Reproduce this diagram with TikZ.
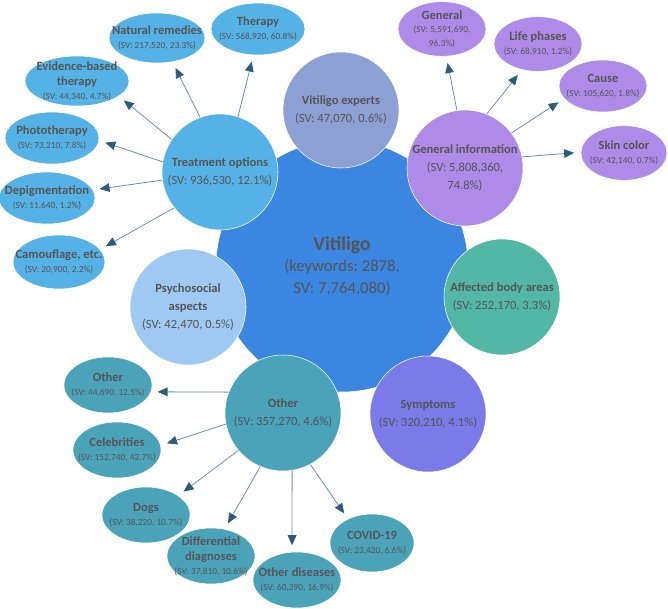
\documentclass[tikz,border=0pt]{standalone}
\usepackage{fontspec}
\setmainfont{Carlito}
\usetikzlibrary{shapes.geometric,arrows.meta}
\frenchspacing

\definecolor{txtgray}{HTML}{555555}
\definecolor{mainblue}{HTML}{3A86E0}
\definecolor{expertcol}{HTML}{8CA0D4}
\definecolor{treatcol}{HTML}{55B2E6}
\definecolor{infocol}{HTML}{AE8BE8}
\definecolor{bodycol}{HTML}{52B7A5}
\definecolor{symptcol}{HTML}{7A7BE8}
\definecolor{psychcol}{HTML}{9DC9F2}
\definecolor{othercol}{HTML}{4BA3BA}
\definecolor{linkcol}{HTML}{6B8FAD}
\definecolor{tipcol}{HTML}{2B5C7E}

\newcommand{\svsmall}[1]{{\fontsize{7}{9}\selectfont #1}}

\tikzset{
  bubble/.style={circle, draw=white, line width=0.4pt, minimum size=87pt, inner sep=-6pt,
    align=center, text=txtgray, font=\fontsize{9.4}{13.5}\selectfont},
  leaf/.style={ellipse, draw=white, line width=0.4pt, minimum width=66pt, minimum height=41pt,
    inner xsep=-15pt, inner ysep=-10pt, align=center, text=txtgray, font=\fontsize{9.4}{10.2}\selectfont},
  tleaf/.style={leaf, fill=treatcol, minimum width=70.5pt, minimum height=39pt},
  gleaf/.style={leaf, fill=infocol},
  oleaf/.style={leaf, fill=othercol, minimum height=42pt},
  link/.style={draw=linkcol, line width=0.6pt, -{Triangle[length=7.5pt,width=6.5pt,color=tipcol]}, shorten >=5pt}
}

\begin{document}
\begin{tikzpicture}[x=0.75pt,y=-0.75pt]
\useasboundingbox (0,0) rectangle (668,609);

\node[bubble, fill=mainblue, minimum size=189pt, font=\fontsize{12.5}{16}\selectfont] (vitiligo) at (342,266)
  {{\fontsize{14.7}{16}\selectfont\bfseries Vitiligo}\\(keywords: 2878,\\SV: 7,764,080)};
\node[bubble, fill=expertcol] (experts) at (341,110) {\textbf{Vitiligo experts}\\(SV: 47,070, 0.6\%)};
\node[bubble, fill=treatcol] (treatment) at (220,172) {\textbf{Treatment options}\\(SV: 936,530, 12.1\%)};
\node[bubble, fill=infocol] (geninfo) at (465,168) {\textbf{General information}\\(SV: 5,808,360,\\74.8\%)};
\node[bubble, fill=bodycol] (bodyareas) at (502,297) {\textbf{Affected body areas}\\(SV: 252,170, 3.3\%)};
\node[bubble, fill=symptcol] (symptoms) at (428,414) {\textbf{Symptoms}\\(SV: 320,210, 4.1\%)};
\node[bubble, fill=psychcol] (psycho) at (188,307) {\textbf{Psychosocial}\\\textbf{aspects}\\(SV: 42,470, 0.5\%)};
\node[bubble, fill=othercol] (other) at (283,413) {\textbf{Other}\\(SV: 357,270, 4.6\%)};

\node[tleaf] (therapy) at (258,29) {\textbf{Therapy}\\\svsmall{(SV: 568,920, 60.8\%)}};
\node[tleaf, minimum width=72pt, minimum height=37.5pt] (remedies) at (157,38) {\textbf{Natural remedies}\\\svsmall{(SV: 217,520, 23.3\%)}};
\node[tleaf, minimum width=78pt, minimum height=37.5pt] (evidence) at (77,81) {\textbf{Evidence-based}\\[1pt]\textbf{therapy}\\\svsmall{(SV: 44,340, 4.7\%)}};
\node[tleaf] (photo) at (52,138) {\textbf{Phototherapy}\\\svsmall{(SV: 73,210, 7.8\%)}};
\node[tleaf, minimum width=72pt] (depig) at (47,198) {\textbf{Depigmentation}\\\svsmall{(SV: 11,640, 1.2\%)}};
\node[tleaf, minimum width=69pt, minimum height=40.5pt] (camo) at (59,262) {\textbf{Camouflage, etc.}\\\svsmall{(SV: 20,900, 2.2\%)}};

\node[gleaf] (general) at (442,29) {\textbf{General}\\\svsmall{(SV: 5,591,690,}\\\svsmall{96.3\%)}};
\node[gleaf] (phases) at (538,44) {\textbf{Life phases}\\\svsmall{(SV: 68,910, 1.2\%)}};
\node[gleaf, minimum height=39pt] (cause) at (603,86) {\textbf{Cause}\\\svsmall{(SV: 105,620, 1.8\%)}};
\node[gleaf, minimum width=64.5pt] (skin) at (624,153) {\textbf{Skin color}\\\svsmall{(SV: 42,140, 0.7\%)}};

\node[oleaf] (othmisc) at (108,385) {\textbf{Other}\\\svsmall{(SV: 44,690, 12.5\%)}};
\node[oleaf] (celebs) at (117,450) {\textbf{Celebrities}\\\svsmall{(SV: 152,740, 42.7\%)}};
\node[oleaf] (dogs) at (146,515) {\textbf{Dogs}\\\svsmall{(SV: 38,220, 10.7\%)}};
\node[oleaf] (diffdiag) at (211,556) {\textbf{Differential}\\[1pt]\textbf{diagnoses}\\\svsmall{(SV: 37,810, 10.6\%)}};
\node[oleaf] (othdis) at (297,580) {\textbf{Other diseases}\\\svsmall{(SV: 60,390, 16.9\%)}};
\node[oleaf, minimum width=63pt, minimum height=43.5pt] (covid) at (372,543) {\textbf{COVID-19}\\\svsmall{(SV: 23,420, 6.6\%)}};

\draw[link] (treatment.72) -- (therapy.-100);
\draw[link] (treatment.110) -- (remedies.-57);
\draw[link] (treatment.146) -- (evidence.-20);
\draw[link] (treatment.170) -- (photo.-3);
\draw[link] (treatment.188) -- (depig.10);
\draw[link] (treatment.218) -- (camo.17);
\draw[link] (geninfo.98) -- (general.-81);
\draw[link] (geninfo.68) -- (phases.-122);
\draw[link] (geninfo.37) -- (cause.-162);
\draw[link] (geninfo.11) -- (skin.179);
\draw[link] (other.159) -- (othmisc.-9);
\draw[link] (other.191) -- (celebs.6);
\draw[link] (other.220) -- (dogs.31);
\draw[link] (other.247) -- (diffdiag.63);
\draw[link] (other.279) -- (othdis.100);
\draw[link] (other.298) -- (covid.135);
\end{tikzpicture}
\end{document}
